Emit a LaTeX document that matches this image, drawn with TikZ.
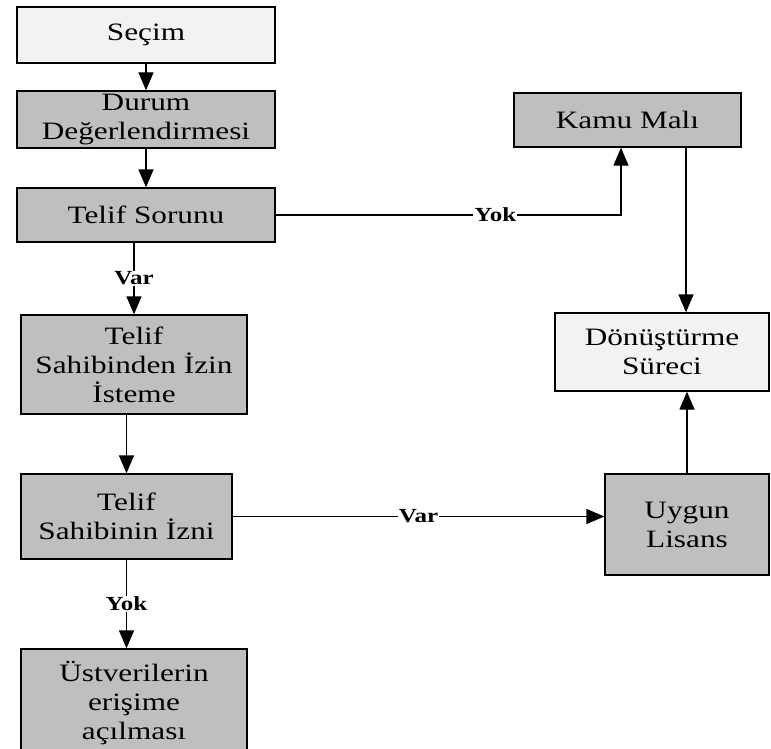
\documentclass[tikz,border=0pt]{standalone}
\usepackage{fontspec}
\setmainfont{Liberation Serif}[FakeStretch=1.25]
\usetikzlibrary{arrows.meta}

\begin{document}
\begin{tikzpicture}[x=1pt, y=-1pt,
    every node/.style = {align=center, inner sep=0pt,
      font=\fontsize{25}{29}\selectfont},
    box/.style = {draw, line width=1.3pt, fill=gray!50},
    lightbox/.style = {box, fill=gray!10},
    flow/.style = {line width=1.3pt, -{Triangle[length=18pt,width=15pt]}},
    lbl/.style = {fill=white, inner sep=1pt,
      font=\fontsize{20}{22}\selectfont\bfseries}]
  \clip (0,0) rectangle (771,749);

  % left column
  \node[lightbox, minimum width=258, minimum height=56] (secim) at (146,35) {Seçim};
  \node[box, minimum width=258, minimum height=57] (durum) at (146,119.5) {Durum\\Değerlendirmesi};
  \node[box, minimum width=258, minimum height=54] (sorun) at (146,215) {Telif Sorunu};
  \node[box, minimum width=226, minimum height=99] (istek) at (134,364.5) {Telif\\Sahibinden İzin\\İsteme};
  \node[box, minimum width=211, minimum height=85] (izni) at (126.5,516.5) {Telif\\Sahibinin İzni};
  \node[box, minimum width=226, minimum height=108] (acik) at (134,703) {Üstverilerin\\erişime\\açılması};

  % right column
  \node[box, minimum width=227, minimum height=54] (kamu) at (627.5,120) {Kamu Malı};
  \node[lightbox, minimum width=214, minimum height=78] (donus) at (662,352) {Dönüştürme\\Süreci};
  \node[box, minimum width=164, minimum height=101] (lisans) at (687,524.5) {Uygun\\Lisans};

  \draw[flow] (secim) -- (durum);
  \draw[flow] (durum) -- (sorun);
  \draw[flow] (sorun.east) -| node[lbl, pos=0.318]{Yok} ([xshift=-6.5pt]kamu.south);
  \draw[flow] (sorun.south -| istek.north) -- node[lbl]{Var} (istek.north);
  \draw[flow] (istek.south -| izni.north) -- (izni.north);
  \draw[flow] (izni.south) -- node[lbl]{Yok} (izni.south |- acik.north);
  \draw[flow] (izni.east) -- node[lbl]{Var} (izni.east -| lisans.west);
  \draw[flow] ([xshift=58.5pt]kamu.south) -- ([xshift=58.5pt]kamu.south |- donus.north);
  \draw[flow] (lisans.north) -- (lisans.north |- donus.south);
\end{tikzpicture}
\end{document}
